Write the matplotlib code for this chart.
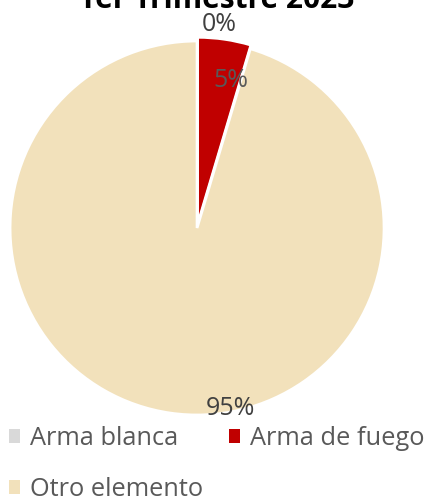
import matplotlib

matplotlib.use("Agg")
import matplotlib.pyplot as plt

categories = ["Arma blanca", "Arma de fuego", "Otro elemento"]
values = [0.0, 4.6, 95.4]
colors = ["#d9d9d9", "#c00000", "#f2e1bb"]
title = "1er Trimestre 2023"

plt.rcParams["font.family"] = ["Open Sans", "DejaVu Sans"]

fig = plt.figure(figsize=(4.33, 5.0), dpi=100)
ax = fig.add_axes([0.0231, 0.17, 0.864, 0.748])

wedges, _ = ax.pie(values, colors=colors, startangle=90, counterclock=False,
                   explode=[0, 0.02, 0], radius=1.0,
                   wedgeprops=dict(edgecolor="white", linewidth=2))
ax.set_aspect("equal")
ax.set_xlim(-1, 1)
ax.set_ylim(-1, 1)

# data labels, placed like Excel's best-fit
lbl_pos = [(0.118, 1.09), (0.18, 0.79), (0.18, -0.963)]
lbl_col = ["#404040", "#595959", "#404040"]
for v, (x, y), c in zip(values, lbl_pos, lbl_col):
    ax.text(x, y, f"{v:.0f}%", ha="center", va="center", fontsize=18, color=c)

fig.text(0.5, 0.983, title, ha="center", va="baseline", fontsize=21.5,
         fontweight="bold", color="black")

order = [0, 2, 1]
leg = fig.legend([wedges[i] for i in order], [categories[i] for i in order],
                 ncol=2, loc="lower left", bbox_to_anchor=(-0.033, -0.05),
                 frameon=False, fontsize=18.3, handlelength=0.45, handleheight=0.45,
                 handletextpad=0.4, columnspacing=1.0, labelspacing=1.03)
for t in leg.get_texts():
    t.set_color("#595959")
for h in leg.legend_handles:
    h.set_edgecolor("none")

fig.savefig("out.png", dpi=100)
